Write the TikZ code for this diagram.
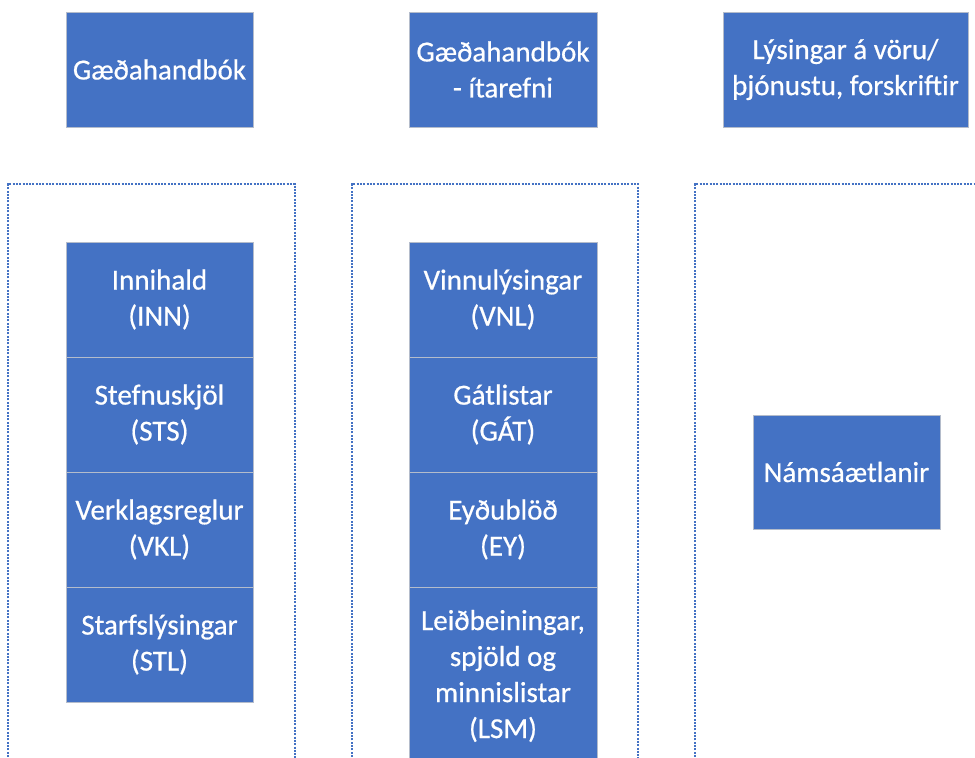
\documentclass[tikz,border=0pt]{standalone}
\usepackage{fontspec}
\setmainfont{Carlito}
\newfontfamily\boxfont{Carlito}[FakeBold=0.6]
\definecolor{boxblue}{HTML}{4472C4}
\definecolor{edgegray}{HTML}{B4BCCB}
\tikzset{
  bluebox/.style={fill=boxblue, draw=edgegray, line width=1pt, text=white, align=center,
    inner sep=0pt, font=\boxfont\fontsize{29}{36}\selectfont},
  frameline/.style={draw=boxblue, line width=2.1pt, dash pattern=on 2pt off 1.3pt}
}
\begin{document}
\begin{tikzpicture}[x=1pt,y=-1pt]
\useasboundingbox (0,0) rectangle (975,758);
\clip (0,0) rectangle (975,758);
\fill[white] (0,0) rectangle (975,758);
% top boxes
\node[bluebox, minimum width=187pt, minimum height=115pt] (top1) at (159.5,69.5) {Gæðahandbók};
\node[bluebox, minimum width=188pt, minimum height=115pt] (top2) at (503,69.5) {Gæðahandbók\\- ítarefni};
\node[bluebox, minimum width=245pt, minimum height=115pt] (top3) at (845.5,69.5) {Lýsingar á vöru/\\þjónustu, forskriftir};
% dotted frames
\coordinate (fa1) at (8,770); \coordinate (fa2) at (8,184); \coordinate (fa3) at (295,184); \coordinate (fa4) at (295,770);
\draw[frameline] (fa1) -- (fa2) -- (fa3) -- (fa4);
\coordinate (fb1) at (352,770); \coordinate (fb2) at (352,184); \coordinate (fb3) at (638,184); \coordinate (fb4) at (638,770);
\draw[frameline] (fb1) -- (fb2) -- (fb3) -- (fb4);
\coordinate (fc1) at (695,770); \coordinate (fc2) at (695,184); \coordinate (fc3) at (985,184);
\draw[frameline] (fc1) -- (fc2) -- (fc3);
% left stack
\node[bluebox, minimum width=187pt, minimum height=115pt] (inn) at (159.5,299.5) {Innihald\\(INN)};
\node[bluebox, minimum width=187pt, minimum height=115pt] (sts) at (159.5,414.5) {Stefnuskjöl\\(STS)};
\node[bluebox, minimum width=187pt, minimum height=115pt] (vkl) at (159.5,529.5) {Verklagsreglur\\(VKL)};
\node[bluebox, minimum width=187pt, minimum height=115pt] (stl) at (159.5,644.5) {Starfslýsingar\\(STL)};
% middle stack
\node[bluebox, minimum width=188pt, minimum height=115pt] (vnl) at (503,299.5) {Vinnulýsingar\\(VNL)};
\node[bluebox, minimum width=188pt, minimum height=115pt] (gat) at (503,414.5) {Gátlistar\\(GÁT)};
\node[bluebox, minimum width=188pt, minimum height=115pt] (ey) at (503,529.5) {Eyðublöð\\(EY)};
\node[bluebox, minimum width=188pt, minimum height=178pt] (lsm) at (503,676) {Leiðbeiningar,\\spjöld og\\minnislistar\\(LSM)};
% right
\node[bluebox, minimum width=187pt, minimum height=114pt] (nams) at (846.5,472) {Námsáætlanir};
\end{tikzpicture}
\end{document}
